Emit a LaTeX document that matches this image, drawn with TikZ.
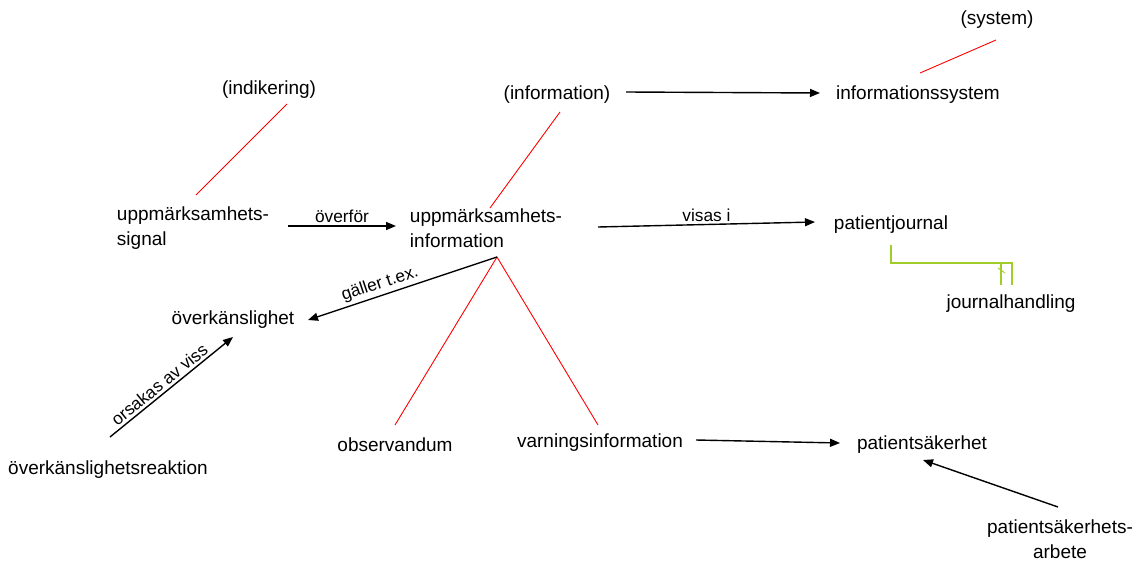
\documentclass[tikz,border=0pt]{standalone}
\usepackage{fontspec}
\setmainfont{Liberation Sans}
\usetikzlibrary{arrows.meta,calc}
\begin{document}
\begin{tikzpicture}[x=1pt,y=-1pt,
  term/.style={inner sep=0pt,font=\fontsize{19}{25}\selectfont},
  lab/.style={inner sep=2.5pt,font=\fontsize{17.3}{20}\selectfont},
  arr/.style={line width=1.4pt,-{Triangle[length=10pt,width=8pt]}},
  rel/.style={red,line width=0.9pt},
  part/.style={color={rgb,255:red,160;green,205;blue,40},line width=1.2pt}]
\useasboundingbox (0,0) rectangle (1136,562);
% nodes
\node[term] (system) at (997,20) {(system)};
\node[term] (infosys) at (918,95) {informationssystem};
\node[term] (information) at (557,95) {(information)};
\node[term] (indik) at (269,90) {(indikering)};
\node[term,align=left] (signal) at (193,228) {uppmärksamhets-\\signal};
\node[term,align=left] (uinfo) at (486,228) {uppmärksamhets-\\information};
\node[term] (pj) at (891,225) {patientjournal};
\node[term] (jh) at (1011,304) {journalhandling};
\node[term] (overk) at (233,320) {överkänslighet};
\node[term] (obs) at (395,445) {observandum};
\node[term] (varn) at (600,443) {varningsinformation};
\node[term] (psak) at (922,445) {patientsäkerhet};
\node[term,align=center] (psarb) at (1060,539) {patientsäkerhets-\\arbete};
\node[term] (reak) at (108,470) {överkänslighetsreaktion};
% red relations
\draw[rel] ($(infosys)+(2,-22)$) -- ($(system)+(-1,20)$);
\draw[rel] ($(indik)+(18,14)$) -- ($(signal)+(3,-33)$);
\draw[rel] ($(information)+(3,17)$) -- ($(uinfo)+(4,-20)$);
\draw[rel] ($(obs)+(0,-20)$) -- ($(uinfo)+(11,29)$) -- ($(varn)+(-2,-18)$);
% arrows
\draw[arr] ($(information)+(69,-3)$) -- ($(infosys)+(-98,-2)$);
\draw[arr] ($(signal)+(95,-2)$) -- node[lab,above]{överför} ($(uinfo)+(-90,-2)$);
\draw[arr] ($(uinfo)+(112,-1)$) -- node[lab,above]{visas i} ($(pj)+(-76,-3)$);
\draw[arr] ($(uinfo)+(11,29)$) -- node[lab,above,sloped,pos=0.6]{gäller t.ex.} ($(overk)+(75,0)$);
\draw[arr] ($(reak)+(2,-33)$) -- node[lab,above,sloped,pos=0.45]{orsakas av viss} ($(overk)+(0,17)$);
\draw[arr] ($(varn)+(96,-3)$) -- ($(psak)+(-82,-2)$);
\draw[arr] ($(psarb)+(-2,-32)$) -- ($(psak)+(1,15)$);
% part-of connector
\draw[part] ($(pj)+(0,20)$) |- ($(jh)+(1,-41)$) -- ($(jh)+(1,-19)$);
\draw[part] ($(jh)+(-10,-41)$) -- ($(jh)+(-10,-19)$);
\draw[part,line width=0.9pt] ($(jh)+(-13,-36)$) -- ($(jh)+(-6,-31)$);
\end{tikzpicture}
\end{document}
